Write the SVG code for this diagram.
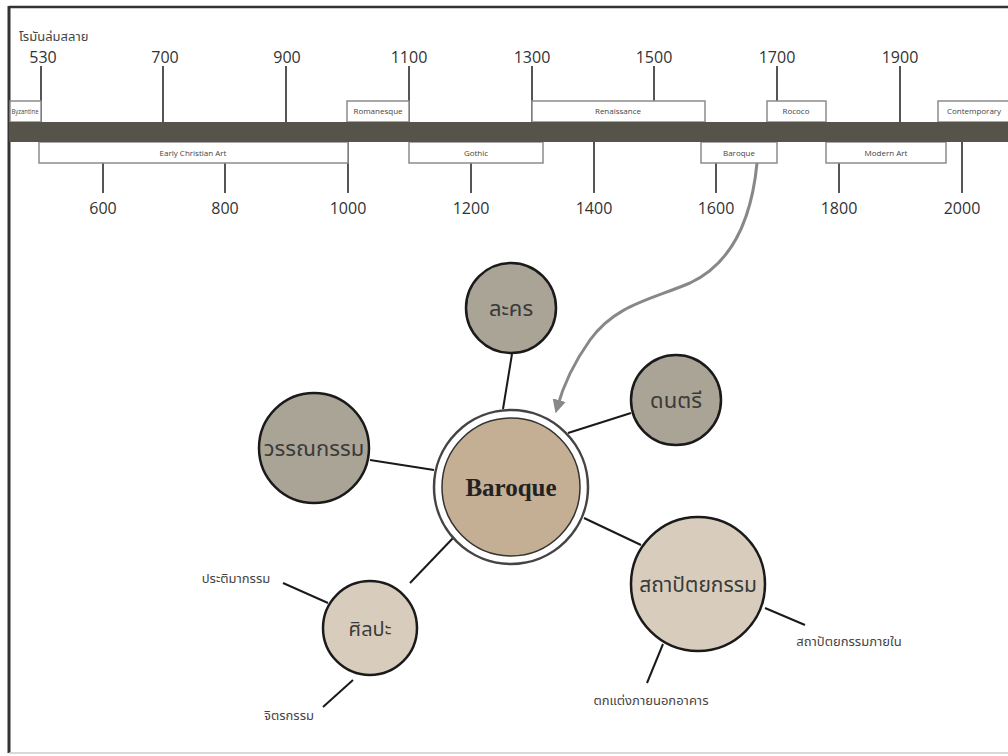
<svg xmlns="http://www.w3.org/2000/svg" width="1008" height="756" viewBox="0 0 1008 756">
  <defs>
    <style>
      .yr { font-family: "Open Sans", "Noto Sans", sans-serif; font-size: 16px; fill: #333; text-anchor: middle; }
      .era { fill: #fff; stroke: #8c8c8c; stroke-width: 1.5; }
      .era-t { font-family: "Open Sans", "Noto Sans", sans-serif; font-size: 8px; fill: #444; text-anchor: middle; }
      .tick { stroke: #555; stroke-width: 2; fill: none; }
      .link { stroke: #1a1a1a; stroke-width: 2; fill: none; }
      .node { stroke: #1a1a1a; stroke-width: 2.5; }
      .gray { fill: #aaa496; }
      .beige { fill: #d8cdbd; }
      .th { font-family: "Noto Sans Thai", "Noto Sans", "DejaVu Sans", sans-serif; fill: #3a3a3a; text-anchor: middle; }
      .sub { font-family: "Noto Sans Thai", "Noto Sans", "DejaVu Sans", sans-serif; font-size: 13px; fill: #444; }
    </style>
    <marker id="arrow" viewBox="0 0 10 10" refX="6" refY="5" markerWidth="4.5" markerHeight="4.5" orient="auto">
      <path d="M0,0 L10,5 L0,10 z" fill="#888"/>
    </marker>
  </defs>

  <rect x="0" y="0" width="1008" height="756" fill="#fff"/>

  <!-- frame -->
  <g id="frame">
    <line x1="9" y1="7" x2="1008" y2="7" stroke="#333" stroke-width="2.5"/>
    <line x1="9" y1="6" x2="9" y2="753" stroke="#333" stroke-width="3"/>
    <line x1="9" y1="753" x2="1008" y2="753" stroke="#ccc" stroke-width="1.5"/>
  </g>

  <!-- timeline -->
  <g id="timeline">
    <!-- ticks above -->
    <line class="tick" x1="41" y1="66" x2="41" y2="122"/>
    <line class="tick" x1="163" y1="66" x2="163" y2="122"/>
    <line class="tick" x1="286" y1="66" x2="286" y2="122"/>
    <line class="tick" x1="409" y1="66" x2="409" y2="122"/>
    <line class="tick" x1="532" y1="66" x2="532" y2="122"/>
    <line class="tick" x1="654" y1="66" x2="654" y2="101"/>
    <line class="tick" x1="777" y1="66" x2="777" y2="101"/>
    <line class="tick" x1="900" y1="66" x2="900" y2="122"/>
    <!-- ticks below -->
    <line class="tick" x1="103" y1="163" x2="103" y2="193"/>
    <line class="tick" x1="225" y1="163" x2="225" y2="193"/>
    <line class="tick" x1="348" y1="142" x2="348" y2="193"/>
    <line class="tick" x1="471" y1="163" x2="471" y2="193"/>
    <line class="tick" x1="594" y1="142" x2="594" y2="193"/>
    <line class="tick" x1="716" y1="163" x2="716" y2="193"/>
    <line class="tick" x1="839" y1="163" x2="839" y2="193"/>
    <line class="tick" x1="962" y1="142" x2="962" y2="193"/>

    <!-- era boxes above -->
    <rect class="era" x="10" y="101" width="31" height="21"/>
    <text class="era-t" x="25" y="114" font-size="5" textLength="27" lengthAdjust="spacingAndGlyphs">Byzantine</text>
    <rect class="era" x="347" y="101" width="62" height="21"/>
    <text class="era-t" x="378" y="114" font-size="7">Romanesque</text>
    <rect class="era" x="532" y="101" width="173" height="21"/>
    <text class="era-t" x="618" y="114">Renaissance</text>
    <rect class="era" x="767" y="101" width="59" height="21"/>
    <text class="era-t" x="796" y="114">Rococo</text>
    <rect class="era" x="938" y="101" width="80" height="21"/>
    <text class="era-t" x="974" y="114" font-size="7">Contemporary</text>

    <!-- era boxes below -->
    <rect class="era" x="39" y="142" width="309" height="21"/>
    <text class="era-t" x="193" y="156">Early Christian Art</text>
    <rect class="era" x="409" y="142" width="134" height="21"/>
    <text class="era-t" x="476" y="156">Gothic</text>
    <rect class="era" x="701" y="142" width="76" height="21"/>
    <text class="era-t" x="739" y="156">Baroque</text>
    <rect class="era" x="826" y="142" width="120" height="21"/>
    <text class="era-t" x="886" y="156">Modern Art</text>

    <!-- bar -->
    <rect x="9" y="122" width="999" height="20" fill="#56534a"/>

    <!-- years -->
    <text class="sub" x="19" y="41" font-size="10.5">โรมันล่มสลาย</text>
    <text class="yr" x="43" y="63">530</text>
    <text class="yr" x="165" y="63">700</text>
    <text class="yr" x="287" y="63">900</text>
    <text class="yr" x="409" y="63">1100</text>
    <text class="yr" x="532" y="63">1300</text>
    <text class="yr" x="654" y="63">1500</text>
    <text class="yr" x="777" y="63">1700</text>
    <text class="yr" x="900" y="63">1900</text>
    <text class="yr" x="103" y="214">600</text>
    <text class="yr" x="225" y="214">800</text>
    <text class="yr" x="348" y="214">1000</text>
    <text class="yr" x="471" y="214">1200</text>
    <text class="yr" x="594" y="214">1400</text>
    <text class="yr" x="716" y="214">1600</text>
    <text class="yr" x="839" y="214">1800</text>
    <text class="yr" x="962" y="214">2000</text>
  </g>

  <!-- connectors -->
  <g id="connectors">
    <path d="M757,163 C752,215 735,262 690,283 C650,300 615,305 590,340 C570,368 562,390 557,408" fill="none" stroke="#888" stroke-width="3" marker-end="url(#arrow)"/>
    <line class="link" x1="503" y1="409" x2="512" y2="354"/>
    <line class="link" x1="568" y1="433" x2="631" y2="413"/>
    <line class="link" x1="370" y1="460" x2="434" y2="470"/>
    <line class="link" x1="410" y1="583" x2="454" y2="537"/>
    <line class="link" x1="584" y1="518" x2="641" y2="545"/>
    <line class="link" x1="328" y1="603" x2="283" y2="583"/>
    <line class="link" x1="353" y1="680" x2="323" y2="707"/>
    <line class="link" x1="765" y1="608" x2="805" y2="625"/>
    <line class="link" x1="663" y1="644" x2="647" y2="683"/>
  </g>

  <!-- nodes -->
  <g id="baroque">
    <circle cx="511" cy="487" r="77" fill="#fff" stroke="#444" stroke-width="2.5"/>
    <circle cx="511" cy="487" r="69" fill="#c4ae94" stroke="#333" stroke-width="1.5"/>
    <text x="511" y="496" font-family="'Liberation Serif', serif" font-weight="bold" font-size="25" fill="#222" text-anchor="middle">Baroque</text>
  </g>
  <g id="lakhon">
    <circle class="node gray" cx="511" cy="308" r="45"/>
    <text class="th" x="511" y="316" font-size="22">ละคร</text>
  </g>
  <g id="dontri">
    <circle class="node gray" cx="676" cy="400" r="45"/>
    <text class="th" x="676" y="408" font-size="22">ดนตรี</text>
  </g>
  <g id="wannakam">
    <circle class="node gray" cx="314" cy="448" r="55"/>
    <text class="th" x="314" y="456" font-size="22">วรรณกรรม</text>
  </g>
  <g id="sinlapa">
    <circle class="node beige" cx="370" cy="628" r="47"/>
    <text class="th" x="370" y="636" font-size="20">ศิลปะ</text>
    <text class="sub" x="236" y="583" text-anchor="middle">ประติมากรรม</text>
    <text class="sub" x="289" y="720" text-anchor="middle">จิตรกรรม</text>
  </g>
  <g id="sathapattayakam">
    <circle class="node beige" cx="698" cy="584" r="67"/>
    <text class="th" x="698" y="592" font-size="21">สถาปัตยกรรม</text>
    <text class="sub" x="849" y="646" text-anchor="middle">สถาปัตยกรรมภายใน</text>
    <text class="sub" x="651" y="705" text-anchor="middle">ตกแต่งภายนอกอาคาร</text>
  </g>
</svg>
